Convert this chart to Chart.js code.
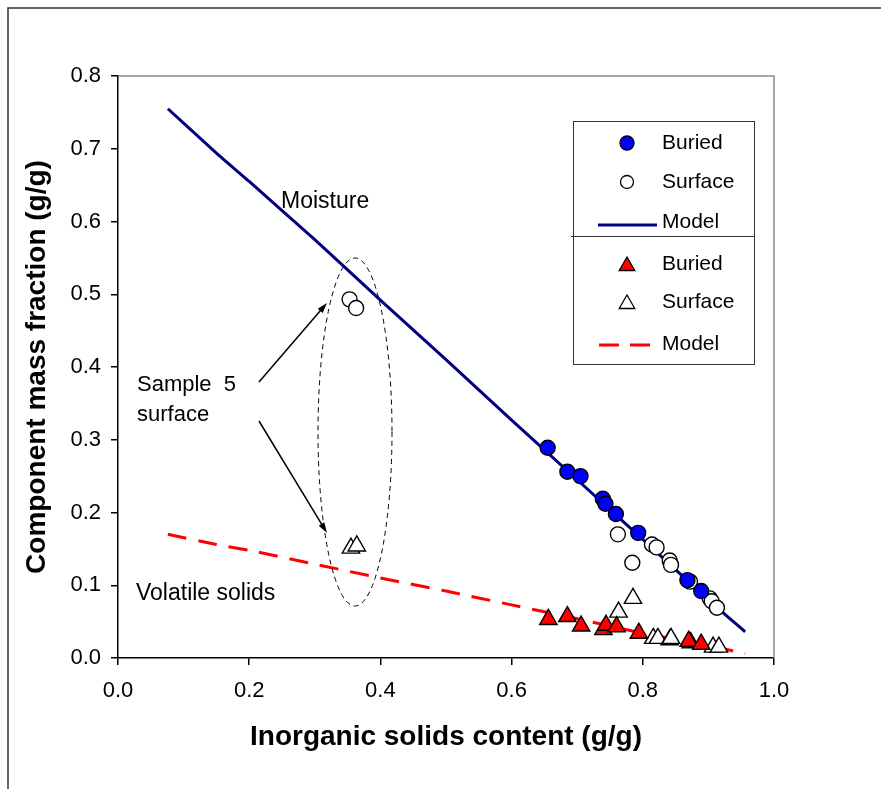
<!DOCTYPE html>
<html>
<head>
<meta charset="utf-8">
<script src="https://cdn.jsdelivr.net/npm/chart.js@4.4.0/dist/chart.umd.min.js"></script>
<style>
  html, body { margin: 0; padding: 0; background: #fff; }
  #wrap { width: 881px; height: 789px; }
</style>
</head>
<body>
<div id="wrap"><canvas id="chart" width="881" height="789"></canvas></div>
<script>
// Moisture (circles) and volatile solids (triangles) vs inorganic solids content
const buriedMoistX = [0.655, 0.685, 0.705, 0.739, 0.743, 0.759, 0.793, 0.868, 0.889];
const buriedMoistY = [0.289, 0.256, 0.250, 0.219, 0.212, 0.198, 0.172, 0.107, 0.092];
const surfaceMoistX = [0.353, 0.363, 0.762, 0.784, 0.814, 0.821, 0.841, 0.843, 0.872, 0.902, 0.905, 0.913];
const surfaceMoistY = [0.493, 0.481, 0.170, 0.131, 0.156, 0.152, 0.134, 0.128, 0.105, 0.082, 0.078, 0.069];
const buriedVolX = [0.656, 0.685, 0.706, 0.740, 0.744, 0.760, 0.794, 0.870, 0.889];
const buriedVolY = [0.053, 0.057, 0.044, 0.039, 0.045, 0.043, 0.034, 0.023, 0.019];
const surfaceVolX = [0.355, 0.364, 0.763, 0.785, 0.816, 0.823, 0.841, 0.843, 0.873, 0.907, 0.916];
const surfaceVolY = [0.151, 0.154, 0.063, 0.082, 0.027, 0.027, 0.025, 0.027, 0.021, 0.015, 0.015];

// model curves
const modelX = [0.076, 0.15, 0.2, 0.3, 0.4, 0.5, 0.6, 0.7, 0.8, 0.9, 0.956];
const moistModel = [0.755, 0.694, 0.655, 0.575, 0.492, 0.410, 0.327, 0.245, 0.163, 0.080, 0.036];
const volModel = [0.170, 0.156, 0.148, 0.129, 0.110, 0.092, 0.073, 0.054, 0.034, 0.017, 0.006];

const xTicks = [0, 0.2, 0.4, 0.6, 0.8, 1.0];
const yTicks = [0, 0.1, 0.2, 0.3, 0.4, 0.5, 0.6, 0.7, 0.8];

const FONT = '"Liberation Sans", Arial, sans-serif';
const NAVY = '#000080';
const RED = '#ff0000';
const BLUE = '#0000ff';

function toPoints(xs, ys) {
  return xs.map((x, i) => ({ x: x, y: ys[i] }));
}

function drawArrow(ctx, x1, y1, x2, y2) {
  const ang = Math.atan2(y2 - y1, x2 - x1);
  const len = 11;
  ctx.beginPath();
  ctx.moveTo(x1, y1);
  ctx.lineTo(x2 - Math.cos(ang) * 6, y2 - Math.sin(ang) * 6);
  ctx.stroke();
  ctx.beginPath();
  ctx.moveTo(x2, y2);
  ctx.lineTo(x2 - len * Math.cos(ang - 0.3), y2 - len * Math.sin(ang - 0.3));
  ctx.lineTo(x2 - len * Math.cos(ang + 0.3), y2 - len * Math.sin(ang + 0.3));
  ctx.closePath();
  ctx.fill();
}

function legendMarker(ctx, style, fill, radius, x, y) {
  ctx.save();
  ctx.fillStyle = fill;
  ctx.strokeStyle = '#000';
  ctx.lineWidth = 1.3;
  Chart.helpers.drawPoint(ctx, { pointStyle: style, radius: radius, borderWidth: 1.3 }, x, y);
  ctx.restore();
}

// frame, labels, ellipse and the two-part legend
const decorations = {
  id: 'decorations',
  afterDraw(chart) {
    const ctx = chart.ctx;
    const area = chart.chartArea;
    ctx.save();

    // outer frame (left and top only)
    ctx.strokeStyle = '#333';
    ctx.lineWidth = 1.5;
    ctx.beginPath();
    ctx.moveTo(8, 789);
    ctx.lineTo(8, 8);
    ctx.lineTo(881, 8);
    ctx.stroke();

    // plot box top and right
    ctx.strokeStyle = '#8a8a8a';
    ctx.lineWidth = 1.5;
    ctx.beginPath();
    ctx.moveTo(area.left, area.top);
    ctx.lineTo(area.right, area.top);
    ctx.lineTo(area.right, area.bottom);
    ctx.stroke();

    // axis titles
    ctx.fillStyle = '#000';
    ctx.font = 'bold 28px ' + FONT;
    ctx.textAlign = 'center';
    ctx.textBaseline = 'middle';
    ctx.fillText('Inorganic solids content (g/g)', (area.left + area.right) / 2, 737);
    ctx.save();
    ctx.translate(37, (area.top + area.bottom) / 2);
    ctx.rotate(-Math.PI / 2);
    ctx.fillText('Component mass fraction (g/g)', 0, 0);
    ctx.restore();

    // curve labels
    ctx.textAlign = 'left';
    ctx.font = '23px ' + FONT;
    ctx.fillText('Moisture', 281, 202);
    ctx.fillText('Volatile solids', 136, 594);
    ctx.font = '22px ' + FONT;
    ctx.fillText('Sample  5', 137, 385);
    ctx.fillText('surface', 137, 415);

    // dashed ellipse round the sample 5 points
    ctx.strokeStyle = '#000';
    ctx.lineWidth = 1;
    ctx.setLineDash([5, 4]);
    ctx.beginPath();
    ctx.ellipse(355, 432, 37, 174, 0, 0, Math.PI * 2);
    ctx.stroke();
    ctx.setLineDash([]);

    ctx.lineWidth = 1.5;
    ctx.fillStyle = '#000';
    drawArrow(ctx, 259, 382, 327, 303);
    drawArrow(ctx, 259, 421, 327, 533);

    // legend box
    ctx.strokeStyle = '#333';
    ctx.lineWidth = 1;
    ctx.strokeRect(573.5, 121.5, 181, 243);
    ctx.beginPath();
    ctx.moveTo(571, 236.5);
    ctx.lineTo(755, 236.5);
    ctx.stroke();

    ctx.font = '21px ' + FONT;
    ctx.fillStyle = '#000';
    ctx.textBaseline = 'middle';
    const tx = 662;
    legendMarker(ctx, 'circle', BLUE, 7, 627, 143);
    ctx.fillText('Buried', tx, 143);
    legendMarker(ctx, 'circle', '#fff', 6.5, 627, 182);
    ctx.fillText('Surface', tx, 182);
    ctx.strokeStyle = NAVY;
    ctx.lineWidth = 3;
    ctx.beginPath();
    ctx.moveTo(598, 225);
    ctx.lineTo(657, 225);
    ctx.stroke();
    ctx.fillText('Model', tx, 222);

    legendMarker(ctx, 'triangle', RED, 9, 627, 266);
    ctx.fillText('Buried', tx, 264);
    legendMarker(ctx, 'triangle', '#fff', 9, 627, 304);
    ctx.fillText('Surface', tx, 302);
    ctx.strokeStyle = RED;
    ctx.lineWidth = 3;
    ctx.setLineDash([20, 11]);
    ctx.beginPath();
    ctx.moveTo(599, 345);
    ctx.lineTo(650, 345);
    ctx.stroke();
    ctx.setLineDash([]);
    ctx.fillText('Model', tx, 344);

    ctx.restore();
  }
};

const scatterBase = { type: 'scatter', borderColor: '#000', borderWidth: 1.4, order: 1 };

const chart = new Chart(document.getElementById('chart').getContext('2d'), {
  type: 'scatter',
  data: {
    datasets: [
      Object.assign({}, scatterBase, {
        label: 'Buried', data: toPoints(buriedMoistX, buriedMoistY),
        pointStyle: 'circle', pointRadius: 7.5, backgroundColor: BLUE
      }),
      Object.assign({}, scatterBase, {
        label: 'Surface', data: toPoints(surfaceMoistX, surfaceMoistY),
        pointStyle: 'circle', pointRadius: 7.5, backgroundColor: '#fff'
      }),
      Object.assign({}, scatterBase, {
        label: 'Buried', data: toPoints(buriedVolX, buriedVolY),
        pointStyle: 'triangle', pointRadius: 10, backgroundColor: RED
      }),
      Object.assign({}, scatterBase, {
        label: 'Surface', data: toPoints(surfaceVolX, surfaceVolY),
        pointStyle: 'triangle', pointRadius: 10, backgroundColor: '#fff'
      }),
      {
        type: 'line', label: 'Model', data: toPoints(modelX, moistModel),
        borderColor: NAVY, borderWidth: 3, pointRadius: 0, tension: 0.2, order: 2
      },
      {
        type: 'line', label: 'Model', data: toPoints(modelX, volModel),
        borderColor: RED, borderWidth: 3, borderDash: [19, 12], pointRadius: 0, tension: 0.2, order: 2
      }
    ]
  },
  options: {
    responsive: false,
    animation: false,
    layout: { padding: { top: 76, right: 107, left: 0, bottom: 0 } },
    plugins: { legend: { display: false }, tooltip: { enabled: false } },
    scales: {
      x: {
        type: 'linear', min: 0, max: 1,
        afterFit: scale => { scale.height = 131; },
        afterBuildTicks: scale => { scale.ticks = xTicks.map(v => ({ value: v })); },
        ticks: {
          color: '#000', padding: 13,
          font: { family: FONT, size: 22 },
          callback: v => v.toFixed(1)
        },
        grid: { drawOnChartArea: false, drawTicks: true, tickLength: 7, color: '#000', lineWidth: 1.5 },
        border: { color: '#000', width: 1.5 }
      },
      y: {
        type: 'linear', min: 0, max: 0.8,
        afterFit: scale => { scale.width = 118; },
        afterBuildTicks: scale => { scale.ticks = yTicks.map(v => ({ value: v })); },
        ticks: {
          color: '#000', padding: 10,
          font: { family: FONT, size: 22 },
          callback: v => v.toFixed(1)
        },
        grid: { drawOnChartArea: false, drawTicks: true, tickLength: 7, color: '#000', lineWidth: 1.5 },
        border: { color: '#000', width: 1.5 }
      }
    }
  },
  plugins: [decorations]
});
</script>
</body>
</html>
